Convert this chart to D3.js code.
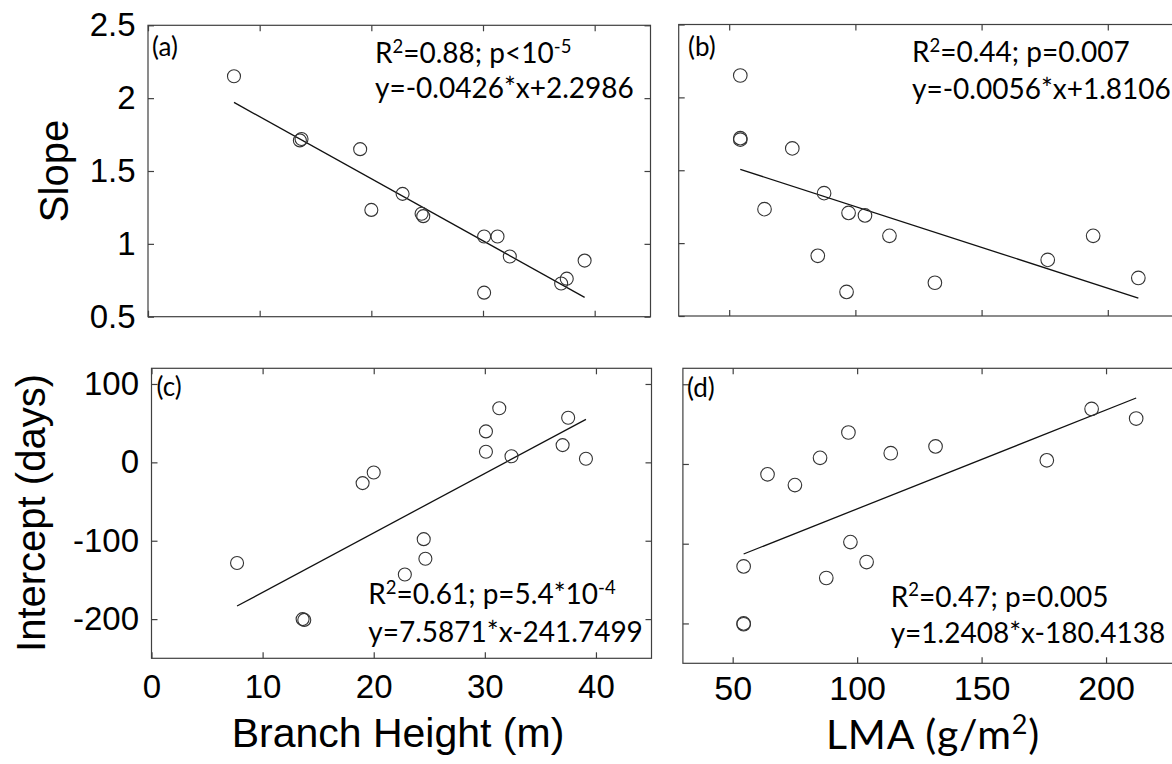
<!DOCTYPE html>
<html>
<head>
<meta charset="utf-8">
<script src="https://cdn.jsdelivr.net/npm/d3@7"></script>
<style>
	body { margin: 0; background: #fff; }
	.box { fill: none; stroke: #404040; stroke-width: 1.2; }
	.dot { fill: none; stroke: #333; stroke-width: 1.1; }
	.fit { fill: none; stroke: #111; stroke-width: 1.3; }
	.note { font-family: Lato, "Open Sans", sans-serif; fill: #000; }
	.title { font-family: "Liberation Sans", Arial, sans-serif; fill: #000; }
</style>
</head>
<body>
<svg width="1172" height="764"></svg>
<script>

	// one value per branch (same order in every array)
	var branchHeight = [7.7, 13.6, 13.75, 19.0, 20.0, 22.8, 24.5, 24.65, 30.1, 30.1, 31.3, 32.4, 37.0, 37.5, 39.1];
	var lma          = [54.4, 54.4, 54.4, 75.0, 64.0, 87.6, 97.3, 103.8, 113.5, 96.5, 194.2, 85.1, 131.5, 212.1, 176.2];
	var slope        = [2.15, 1.71, 1.72, 1.65, 1.233, 1.343, 1.207, 1.19, 1.05, 0.665, 1.05, 0.913, 0.728, 0.761, 0.885];
	var intercept    = [-128.5, -200, -201, -26.5, -13, -143, -98, -123, 13.5, 39.5, 69, 7.7, 22, 57, 4.6];

	// regression lines: [slope, intercept]
	var fitA = [-0.0426, 2.2986];
	var fitB = [-0.0056, 1.8106];
	var fitC = [7.5871, -241.7499];
	var fitD = [1.2408, -180.4138];

	// tick values
	var heightTicks = [0, 10, 20, 30, 40];
	var lmaTicks = [50, 100, 150, 200];
	var slopeTicks = [0.5, 1, 1.5, 2, 2.5];
	var interceptTicks = [-200, -100, 0, 100];

	// annotation texts, [text, superscript?]
	var noteA = [[["R", 0], ["2", 1], ["=0.88; p<10", 0], ["-5", 1]], [["y=-0.0426*x+2.2986", 0]]];
	var noteB = [[["R", 0], ["2", 1], ["=0.44; p=0.007", 0]], [["y=-0.0056*x+1.8106", 0]]];
	var noteC = [[["R", 0], ["2", 1], ["=0.61; p=5.4*10", 0], ["-4", 1]], [["y=7.5871*x-241.7499", 0]]];
	var noteD = [[["R", 0], ["2", 1], ["=0.47; p=0.005", 0]], [["y=1.2408*x-180.4138", 0]]];

	var svg = d3.select("svg");

	var panels = [
		{ tag: "(a)", xs: branchHeight, ys: slope, fit: fitA, note: noteA,
		  xDom: [0, 45], yDom: [0.5, 2.5], xr: [148, 650.5], yr: [316.7, 25.3],
		  xTicks: heightTicks, yTicks: slopeTicks, xLabels: false, yLabels: true, tickFont: 33, pad: 0,
		  tagPos: [152, 55.5], notePos: [375, 63.3, 98.3], r: 6.5 },
		{ tag: "(b)", xs: lma, ys: slope, fit: fitB, note: noteB,
		  xDom: [30, 250], yDom: [0.5, 2.5], xr: [678.7, 1234], yr: [316, 24.5],
		  xTicks: lmaTicks, yTicks: slopeTicks, xLabels: false, yLabels: false, tickFont: 34, pad: 0,
		  tagPos: [688, 56], notePos: [912, 62, 99], r: 6.8 },
		{ tag: "(c)", xs: branchHeight, ys: intercept, fit: fitC, note: noteC,
		  xDom: [0, 45], yDom: [-250, 120], xr: [151.5, 651.5], yr: [658.3, 368.3],
		  xTicks: heightTicks, yTicks: interceptTicks, xLabels: true, yLabels: true, tickFont: 33, pad: 16.5,
		  tagPos: [156.5, 396], notePos: [368.3, 604, 641.5], r: 6.5 },
		{ tag: "(d)", xs: lma, ys: intercept, fit: fitD, note: noteD,
		  xDom: [30, 250], yDom: [-250, 120], xr: [682.9, 1230.5], yr: [663.3, 368.3],
		  xTicks: lmaTicks, yTicks: interceptTicks, xLabels: true, yLabels: false, tickFont: 34, pad: 13,
		  tagPos: [687, 397], notePos: [890.7, 606.7, 643.3], r: 6.8 }
	];

	var tickLen = 6;

	panels.forEach(function(p) {
		var x = d3.scaleLinear().domain(p.xDom).range(p.xr);
		var y = d3.scaleLinear().domain(p.yDom).range(p.yr);
		var g = svg.append("g");

		// box
		g.append("rect")
			.attr("class", "box")
			.attr("x", p.xr[0])
			.attr("y", p.yr[1])
			.attr("width", p.xr[1] - p.xr[0])
			.attr("height", p.yr[0] - p.yr[1]);

		function style(a) {
			a.select(".domain").remove();
			a.attr("color", "#404040")
				.attr("font-family", "'Liberation Sans', Arial, sans-serif")
				.attr("font-size", p.tickFont);
			a.selectAll(".tick line").attr("stroke-width", 1.2);
			a.selectAll(".tick text").attr("fill", "#000");
		}

		// bottom
		g.append("g")
			.attr("transform", "translate(0," + p.yr[0] + ")")
			.call(d3.axisBottom(x).tickValues(p.xTicks).tickSize(-tickLen)
				.tickPadding(p.pad)
				.tickFormat(p.xLabels ? function(d) { return d; } : ""))
			.call(style);
		// top
		g.append("g")
			.attr("transform", "translate(0," + p.yr[1] + ")")
			.call(d3.axisTop(x).tickValues(p.xTicks).tickSize(-tickLen).tickFormat(""))
			.call(style);
		// left
		g.append("g")
			.attr("transform", "translate(" + p.xr[0] + ",0)")
			.call(d3.axisLeft(y).tickValues(p.yTicks).tickSize(-tickLen).tickPadding(12.5)
				.tickFormat(p.yLabels ? function(d) { return d; } : ""))
			.call(style);
		// right
		g.append("g")
			.attr("transform", "translate(" + p.xr[1] + ",0)")
			.call(d3.axisRight(y).tickValues(p.yTicks).tickSize(-tickLen).tickFormat(""))
			.call(style);

		// regression line over the data range
		var ext = d3.extent(p.xs);
		var line = d3.line()
			.x(function(d) { return x(d); })
			.y(function(d) { return y(p.fit[0] * d + p.fit[1]); });
		g.append("path")
			.attr("class", "fit")
			.attr("d", line(ext));

		// points
		g.selectAll(".dot")
			.data(p.xs.map(function(d, i) { return [d, p.ys[i]]; }))
			.enter().append("circle")
			.attr("class", "dot")
			.attr("cx", function(d) { return x(d[0]); })
			.attr("cy", function(d) { return y(d[1]); })
			.attr("r", p.r);

		// panel tag
		g.append("text")
			.attr("class", "note")
			.attr("x", p.tagPos[0])
			.attr("y", p.tagPos[1])
			.attr("font-size", 26)
			.text(p.tag);

		// stats text
		p.note.forEach(function(parts, li) {
			var t = g.append("text")
				.attr("class", "note")
				.attr("x", p.notePos[0])
				.attr("y", p.notePos[1 + li])
				.attr("font-size", 28);
			var up = false;
			parts.forEach(function(pt) {
				var s = t.append("tspan").text(pt[0]);
				if (pt[1]) {
					s.attr("font-size", 18.5).attr("dy", -10.5);
					up = true;
				} else if (up) {
					s.attr("dy", 10.5);
					up = false;
				}
			});
		});
	});

	// axis titles
	svg.append("text")
		.attr("class", "title")
		.attr("font-size", 40)
		.attr("text-anchor", "middle")
		.attr("transform", "translate(67.5,171) rotate(-90)")
		.text("Slope");

	svg.append("text")
		.attr("class", "title")
		.attr("font-size", 40)
		.attr("text-anchor", "middle")
		.attr("transform", "translate(45,513) rotate(-90)")
		.text("Intercept (days)");

	svg.append("text")
		.attr("class", "title")
		.attr("font-size", 41)
		.attr("text-anchor", "middle")
		.attr("x", 398)
		.attr("y", 746.7)
		.text("Branch Height (m)");

	var lmaTitle = svg.append("text")
		.attr("class", "note")
		.attr("font-size", 41)
		.attr("letter-spacing", 0.8)
		.attr("x", 826)
		.attr("y", 749);
	lmaTitle.append("tspan").text("LMA (g/m");
	lmaTitle.append("tspan").attr("font-size", 27).attr("dy", -15).text("2");
	lmaTitle.append("tspan").attr("dy", 15).text(")");

</script>
</body>
</html>
